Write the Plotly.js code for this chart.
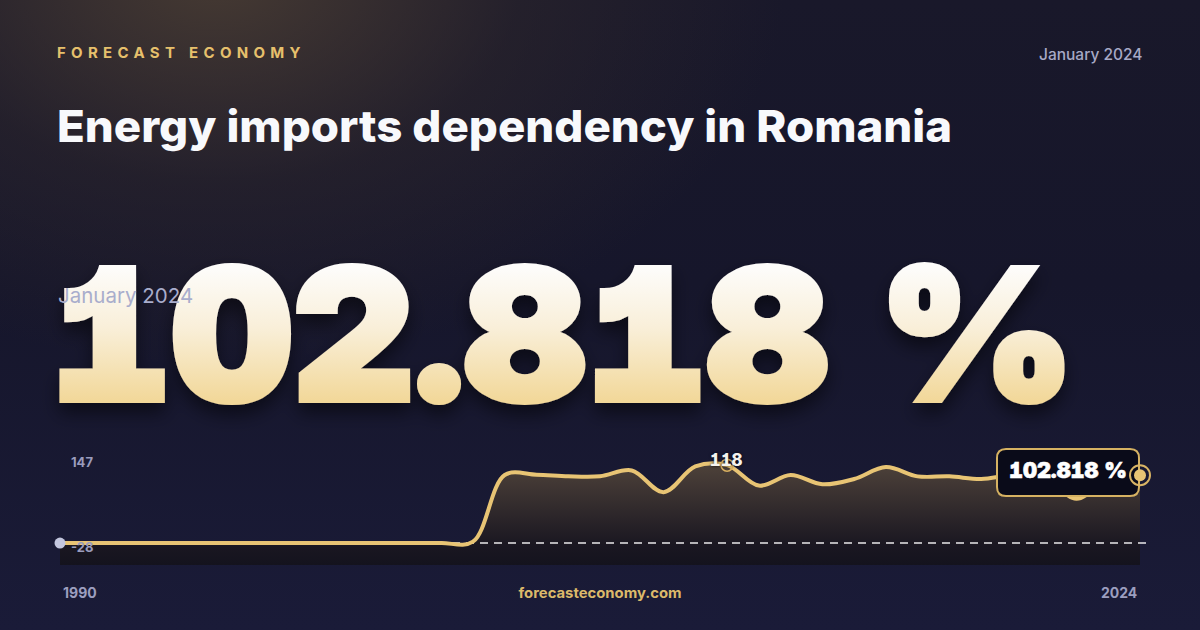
<!DOCTYPE html>
<html>
<head>
<meta charset="utf-8">
<script src="https://cdn.plot.ly/plotly-3.0.1.min.js"></script>
<style>
  html, body { margin: 0; padding: 0; width: 1200px; height: 630px; overflow: hidden; }
  body {
    background:
      radial-gradient(ellipse 760px 520px at 18% -4%, rgba(78,64,52,0.85) 0%, rgba(50,42,45,0.45) 40%, rgba(0,0,0,0) 75%),
      linear-gradient(180deg, #19182a 0%, #16162b 45%, #1a1b38 100%);
  }
  #chart { width: 1200px; height: 630px; }
</style>
</head>
<body>
<div id="chart"></div>
<script>
// ---- data ----
const years = [1990,1991,1992,1993,1994,1995,1996,1997,1998,1999,2000,2001,2002,2003,2004,2005,2006,2007,2008,2009,2010,2011,2012,2013,2014,2015,2016,2017,2018,2019,2020,2021,2022,2023,2024];
const values = [0,0,0,0,0,0,0,0,0,0,0,0,0,2,103,103.5,101,101,110,77,116,118,87,103,89,97,115,101,101,97,103,100,67,98,102.818];
const brand = 'FORECAST ECONOMY';
const titleText = 'Energy imports dependency in Romania';
const periodLabel = 'January 2024';
const headlineValue = '102.818 %';
const yTickLabels = ['147', '-28'];
const xTickLabels = ['1990', '2024'];
const siteLabel = 'forecasteconomy.com';
const maxLabel = '118';

// ---- helpers (pixel -> paper) ----
const W = 1200, H = 630;
const px = x => x / W;
const py = y => 1 - y / H;
const yRange = [-33.3, 147];
const GOLD = '#e8c474';

const n = years.length;
const lastYear = years[n - 1], lastVal = values[n - 1];
let maxIdx = 0;
values.forEach((v, i) => { if (v > values[maxIdx]) maxIdx = i; });

// x axis: first year at 60px, last year at 1140px, with some room for markers
const X0 = 60, X1 = 1140, padL = 12, padR = 25;
const pxPerYear = (X1 - X0) / (lastYear - years[0]);
const xRange = [years[0] - padL / pxPerYear, lastYear + padR / pxPerYear];

const baseline = years.map(() => yRange[0]);

const traces = [
  { x: years, y: baseline, mode: 'lines', line: { width: 0 }, hoverinfo: 'skip', showlegend: false },
  { x: years, y: values, mode: 'lines', fill: 'tonexty', line: { width: 0, shape: 'spline', smoothing: 1 },
    fillgradient: { type: 'vertical', colorscale: [[0, 'rgba(20,19,30,1)'], [0.2, 'rgba(26,23,33,1)'], [1, 'rgba(78,66,58,1)']] },
    hoverinfo: 'skip', showlegend: false },
  { x: [years[0], lastYear + 0.2], y: [0, 0], mode: 'lines',
    line: { color: 'rgba(255,255,255,0.9)', width: 1.5, dash: '8px,6px' }, hoverinfo: 'skip', showlegend: false },
  { x: years, y: values, mode: 'lines', line: { color: GOLD, width: 4, shape: 'spline', smoothing: 1 },
    hoverinfo: 'skip', showlegend: false },
  { x: [years[0]], y: [values[0]], mode: 'markers', cliponaxis: false, marker: { size: 11, color: '#c3c6de' }, hoverinfo: 'skip', showlegend: false },
  { x: [years[maxIdx]], y: [values[maxIdx]], mode: 'markers', cliponaxis: false,
    marker: { size: 12, color: 'rgba(0,0,0,0)', line: { color: '#d9b060', width: 1.5 } }, hoverinfo: 'skip', showlegend: false }
];

// rounded box for the last value label
const bx0 = 997, bx1 = 1139, by0 = 449, by1 = 496, r = 9;
const P = (x, y) => px(x) + ',' + py(y);
const boxPath = 'M' + P(bx0 + r, by0) + ' L' + P(bx1 - r, by0) + ' Q' + P(bx1, by0) + ' ' + P(bx1, by0 + r) +
  ' L' + P(bx1, by1 - r) + ' Q' + P(bx1, by1) + ' ' + P(bx1 - r, by1) +
  ' L' + P(bx0 + r, by1) + ' Q' + P(bx0, by1) + ' ' + P(bx0, by1 - r) +
  ' L' + P(bx0, by0 + r) + ' Q' + P(bx0, by0) + ' ' + P(bx0 + r, by0) + ' Z';

const shapes = [
  { type: 'path', xref: 'paper', yref: 'paper', path: boxPath, fillcolor: '#0a0b19',
    line: { color: '#d6b262', width: 2 }, layer: 'above' },
  { type: 'circle', xref: 'x', yref: 'y', xsizemode: 'pixel', ysizemode: 'pixel',
    xanchor: lastYear, yanchor: lastVal, x0: -10, x1: 10, y0: -10, y1: 10,
    fillcolor: 'rgba(0,0,0,0)', line: { color: '#d9b465', width: 2 }, layer: 'above' },
  { type: 'circle', xref: 'x', yref: 'y', xsizemode: 'pixel', ysizemode: 'pixel',
    xanchor: lastYear, yanchor: lastVal, x0: -6, x1: 6, y0: -6, y1: 6,
    fillcolor: GOLD, line: { width: 0 }, layer: 'above' }
];

const FONT = 'Inter, "Noto Sans", sans-serif';
const ann = (o) => Object.assign({ xref: 'paper', yref: 'paper', showarrow: false }, o);
const annotations = [
  ann({ x: px(55), y: py(52), xanchor: 'left', yanchor: 'middle', text: brand,
        font: { family: FONT, size: 15, weight: 700, color: '#e6c06c' } }),
  ann({ x: px(1145), y: py(54), xanchor: 'right', yanchor: 'middle', text: periodLabel,
        font: { family: FONT, size: 15.5, weight: 500, color: '#a7a9c6' } }),
  ann({ x: px(55), y: py(126), xanchor: 'left', yanchor: 'middle', text: titleText,
        font: { family: FONT, size: 44, weight: 800, color: '#f8f9fc' } }),
  ann({ x: px(50), y: py(334), xanchor: 'left', yanchor: 'middle', text: headlineValue,
        font: { family: FONT, size: 182, weight: 900, color: '#f8eed6' } }),
  ann({ x: px(56), y: py(295), xanchor: 'left', yanchor: 'middle', text: periodLabel,
        font: { family: FONT, size: 20.5, weight: 400, color: '#a9adcc' } }),
  ann({ x: px(69), y: py(462), xanchor: 'left', yanchor: 'middle', text: yTickLabels[0],
        font: { family: FONT, size: 13, weight: 700, color: '#9a9cbd' } }),
  ann({ x: px(69), y: py(547), xanchor: 'left', yanchor: 'middle', text: yTickLabels[1],
        font: { family: FONT, size: 13, weight: 700, color: '#9a9cbd' } }),
  ann({ x: px(61), y: py(592), xanchor: 'left', yanchor: 'middle', text: xTickLabels[0],
        font: { family: FONT, size: 14, weight: 700, color: '#9c9ebf' } }),
  ann({ x: px(1139), y: py(592), xanchor: 'right', yanchor: 'middle', text: xTickLabels[1],
        font: { family: FONT, size: 14, weight: 700, color: '#9c9ebf' } }),
  ann({ x: px(600), y: py(592), xanchor: 'center', yanchor: 'middle', text: siteLabel,
        font: { family: FONT, size: 14, weight: 700, color: '#dcb96a' } }),
  ann({ xref: 'x', yref: 'y', x: years[maxIdx], y: values[maxIdx], yshift: 5, xshift: -1,
        xanchor: 'center', yanchor: 'middle', text: maxLabel,
        font: { family: FONT, size: 17, weight: 800, color: '#f5f3ee', shadow: '0px 0px 3px rgba(0,0,0,0.8)' } }),
  ann({ x: px(1068), y: py(470), xanchor: 'center', yanchor: 'middle', text: headlineValue,
        font: { family: FONT, size: 21.5, weight: 900, color: '#ffffff' } })
];

const layout = {
  width: W, height: H,
  margin: { l: 0, r: 0, t: 0, b: 0 },
  paper_bgcolor: 'rgba(0,0,0,0)', plot_bgcolor: 'rgba(0,0,0,0)',
  showlegend: false,
  xaxis: { domain: [px(X0 - padL), px(X1 + padR)], range: xRange, visible: false, fixedrange: true },
  yaxis: { domain: [py(565), py(446)], range: yRange, visible: false, fixedrange: true },
  shapes: shapes,
  annotations: annotations
};

// restyle a text, keeping its left / centre / right edge where the anchor says
function restyleText(t, opts) {
  const r0 = t.getBoundingClientRect();
  if (opts.letterSpacing != null) t.style.letterSpacing = opts.letterSpacing + 'px';
  if (opts.features) t.style.fontFeatureSettings = opts.features;
  if (opts.stroke) {
    t.style.stroke = opts.stroke; t.style.strokeWidth = opts.strokeWidth + 'px';
    t.style.strokeLinejoin = 'miter'; t.style.paintOrder = 'stroke fill';
  }
  const base = t.getAttribute('transform') || '';
  let tf = base;
  const bb = t.getBBox();
  let sx = opts.scaleX || 1;
  if (opts.width) sx = opts.width / bb.width;
  if (sx !== 1) {
    tf = 'translate(' + bb.x + ',0) scale(' + sx + ',1) translate(' + (-bb.x) + ',0) ' + base;
    t.setAttribute('transform', tf);
  }
  const r1 = t.getBoundingClientRect();
  let dx = 0;
  const anchor = opts.anchor || 'left';
  if (opts.left != null) dx = opts.left - r1.left;
  else if (anchor === 'left') dx = r0.left - r1.left;
  else if (anchor === 'right') dx = r0.right - r1.right;
  else dx = (r0.left + r0.right) / 2 - (r1.left + r1.right) / 2;
  t.setAttribute('transform', 'translate(' + dx + ',0) ' + tf);
}

Plotly.newPlot('chart', traces, layout, { displayModeBar: false, staticPlot: true }).then(gd => {
  const texts = gd.querySelectorAll('text.annotation-text');
  texts.forEach(t => {
    const fs = parseFloat(t.style.fontSize);
    if (t.textContent === brand) restyleText(t, { letterSpacing: 5.3 });
    if (t.textContent === titleText) restyleText(t, { scaleX: 1.037 });
    if (t.textContent === siteLabel) restyleText(t, { scaleX: 1.06, anchor: 'center' });
    if (t.textContent === maxLabel) restyleText(t, { features: "'cv01' 1, 'tnum' 1", anchor: 'center' });
    if (t.textContent === headlineValue && fs < 100) {
      restyleText(t, { features: "'cv01' 1, 'tnum' 1", stroke: '#ffffff', strokeWidth: 0.6, width: 118, anchor: 'center' });
    }
    if (t.textContent === headlineValue && fs > 100) {
      const svg = t.ownerSVGElement;
      const NS = 'http://www.w3.org/2000/svg';
      let defs = svg.querySelector('defs');
      if (!defs) { defs = document.createElementNS(NS, 'defs'); svg.insertBefore(defs, svg.firstChild); }
      const lg = document.createElementNS(NS, 'linearGradient');
      lg.setAttribute('id', 'bigGrad');
      lg.setAttribute('x1', '0'); lg.setAttribute('y1', '0.2'); lg.setAttribute('x2', '0'); lg.setAttribute('y2', '0.8');
      [['0', '#fdfcfa'], ['0.45', '#f9efd9'], ['1', '#f2d89a']].forEach(([o, c]) => {
        const s = document.createElementNS(NS, 'stop');
        s.setAttribute('offset', o); s.setAttribute('stop-color', c); lg.appendChild(s);
      });
      defs.appendChild(lg);
      const f = document.createElementNS(NS, 'filter');
      f.setAttribute('id', 'bigShadow');
      f.setAttribute('x', '-10%'); f.setAttribute('y', '-20%'); f.setAttribute('width', '120%'); f.setAttribute('height', '150%');
      const ds = document.createElementNS(NS, 'feDropShadow');
      ds.setAttribute('dx', '0'); ds.setAttribute('dy', '10'); ds.setAttribute('stdDeviation', '9');
      ds.setAttribute('flood-color', '#000000'); ds.setAttribute('flood-opacity', '0.5');
      f.appendChild(ds);
      defs.appendChild(f);
      t.style.fill = 'url(#bigGrad)';
      t.setAttribute('filter', 'url(#bigShadow)');
      restyleText(t, { features: "'cv01' 1, 'tnum' 1", stroke: 'url(#bigGrad)', strokeWidth: 6, width: 1025, left: 50 });
    }
  });
});
</script>
</body>
</html>
